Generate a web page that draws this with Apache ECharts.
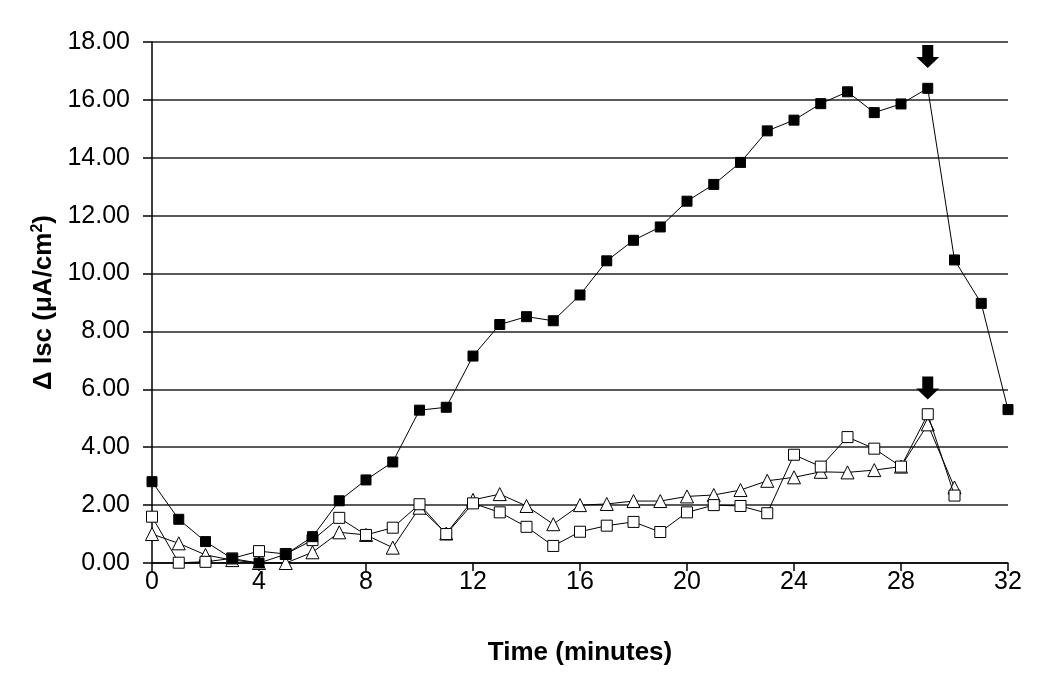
<!DOCTYPE html>
<html>
<head>
<meta charset="utf-8">
<script src="https://cdn.jsdelivr.net/npm/echarts@6/dist/echarts.min.js"></script>
<style>
    html, body { margin: 0; padding: 0; background: #fff; }
    #chart { width: 1050px; height: 686px; }
</style>
</head>
<body>
<div id="chart"></div>
<script>
// time points (minutes)
const times = [0,1,2,3,4,5,6,7,8,9,10,11,12,13,14,15,16,17,18,19,20,21,22,23,24,25,26,27,28,29,30,31,32];

// filled squares
const filledSquare = [2.81,1.51,0.74,0.15,0.0,0.30,0.91,2.15,2.87,3.49,5.28,5.38,7.15,8.24,8.51,8.37,9.26,
    10.44,11.15,11.61,12.50,13.08,13.84,14.93,15.30,15.87,16.28,15.56,15.86,16.40,10.47,8.97,5.30];
// open squares
const openSquare = [1.60,0.01,0.04,0.16,0.41,0.31,0.79,1.56,0.97,1.22,2.03,1.00,2.06,1.75,1.25,0.59,1.08,
    1.29,1.42,1.07,1.75,2.00,1.97,1.72,3.74,3.33,4.35,3.95,3.33,5.14,2.33];
// open triangles
const openTriangle = [1.00,0.68,0.28,0.10,0.0,0.0,0.37,1.06,0.97,0.53,1.91,1.02,2.18,2.38,1.97,1.34,2.00,
    2.04,2.14,2.14,2.30,2.35,2.52,2.84,2.96,3.15,3.13,3.21,3.33,4.79,2.61];

// arrow markers
const arrowTimes = [29, 29];
const arrowValues = [17.5, 6.05];

const font = "'Liberation Sans', Arial, sans-serif";

const pairs = (ys) => ys.map((v, i) => [times[i], v]);

const chart = echarts.init(document.getElementById('chart'));
chart.setOption({
    animation: false,
    textStyle: { fontFamily: font, color: '#000' },
    grid: { left: 152, right: 42, top: 42, bottom: 123 },
    xAxis: {
        type: 'value',
        min: 0,
        max: 32,
        interval: 4,
        name: 'Time (minutes)',
        nameLocation: 'middle',
        nameGap: 77,
        nameTextStyle: { fontFamily: font, fontSize: 26, fontWeight: 'bold', color: '#000' },
        axisLine: { lineStyle: { color: '#000', width: 1.5 } },
        axisTick: { inside: false, length: 8, lineStyle: { color: '#000', width: 1.5 } },
        axisLabel: { fontSize: 25, color: '#000', margin: 7 },
        splitLine: { show: false }
    },
    yAxis: {
        type: 'value',
        min: 0,
        max: 18,
        interval: 2,
        name: '{n|Δ Isc (μA/cm}{sup|2}{n|)}',
        nameLocation: 'middle',
        nameGap: 92,
        nameRotate: 90,
        nameTextStyle: {
            rich: {
                n: { fontFamily: font, fontSize: 26, fontWeight: 'bold', color: '#000' },
                sup: { fontFamily: font, fontSize: 16, fontWeight: 'bold', color: '#000', verticalAlign: 'top', padding: [0, 0, 12, 0] }
            }
        },
        axisLine: { show: true, lineStyle: { color: '#000', width: 1.5 } },
        axisTick: { show: true, inside: false, length: 9, lineStyle: { color: '#000', width: 1.5 } },
        axisLabel: { fontSize: 25, color: '#000', margin: 22, formatter: (v) => v.toFixed(2) },
        splitLine: { lineStyle: { color: '#222', width: 1.5 } }
    },
    series: [
        {
            type: 'line',
            data: pairs(openTriangle),
            symbol: 'triangle',
            symbolSize: 13,
            lineStyle: { color: '#000', width: 1 },
            itemStyle: { color: '#fff', borderColor: '#000', borderWidth: 1 },
            z: 3
        },
        {
            type: 'line',
            data: pairs(openSquare),
            symbol: 'rect',
            symbolSize: 11,
            lineStyle: { color: '#000', width: 1 },
            itemStyle: { color: '#fff', borderColor: '#000', borderWidth: 1 },
            z: 4
        },
        {
            type: 'line',
            data: pairs(filledSquare),
            symbol: 'rect',
            symbolSize: 10,
            lineStyle: { color: '#000', width: 1 },
            itemStyle: { color: '#000', borderColor: '#000', borderWidth: 1 },
            z: 5
        },
        {
            type: 'scatter',
            data: arrowTimes.map((t, i) => [t, arrowValues[i]]),
            symbol: 'path://M6,0 L17,0 L17,12 L23,12 L11.5,23 L0,12 L6,12 Z',
            symbolSize: [23, 23],
            itemStyle: { color: '#000', opacity: 1 },
            z: 6
        }
    ]
});
</script>
</body>
</html>
